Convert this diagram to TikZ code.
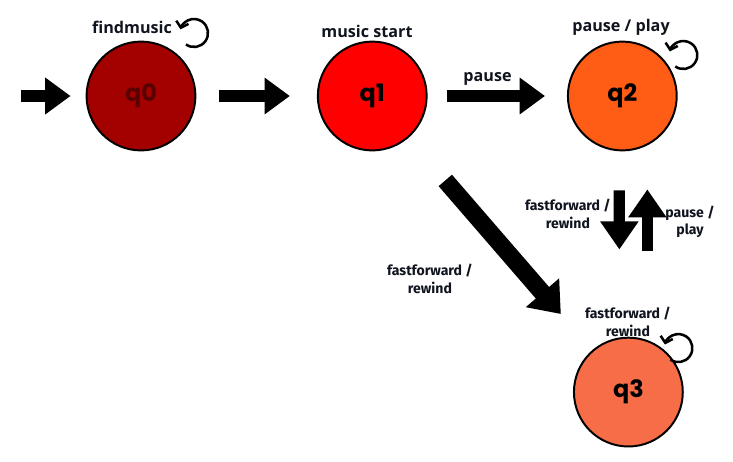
\documentclass[tikz,border=0pt]{standalone}
\usepackage{fontspec}
\setmainfont{Open Sans}
\newfontfamily\qfont{Poppins}
\newfontfamily\smallfont{Fira Sans}
\usetikzlibrary{automata,arrows.meta,positioning}

\definecolor{qzero}{HTML}{A30000}
\definecolor{qzerotext}{HTML}{5A0000}
\definecolor{qone}{HTML}{FF0000}
\definecolor{qtwo}{HTML}{FF5C16}
\definecolor{qthree}{HTML}{F76D47}
\definecolor{ink}{HTML}{10141F}

\begin{document}
\begin{tikzpicture}[x=0.025cm, y=-0.025cm, node distance=5.78cm, auto,
    every state/.style={draw=black, line width=1.4pt, minimum size=2.72cm, inner sep=0pt,
                        font=\qfont\bfseries\fontsize{17}{17}\selectfont},
    block/.style={line width=8pt, -{Triangle[length=18pt, width=25pt]}},
    vblock/.style={line width=8pt, -{Triangle[length=20pt, width=26pt]}},
    dblock/.style={line width=12.5pt, -{Triangle[length=20pt, width=30pt]}},
    loopy/.style={line width=1.8pt, -{Straight Barb[length=4pt, width=9pt]}},
    lbl/.style={font=\bfseries\fontsize{11.5}{13}\selectfont, text=ink},
    smalllbl/.style={font=\smallfont\bfseries\fontsize{10}{12.5}\selectfont, text=ink, align=center}]

    \useasboundingbox (0,0) rectangle (733,462);

    \node[state, fill=qzero, text=qzerotext] (q0)                                            at (141,96) {q0};
    \node[state, fill=qone]                  (q1) [right of=q0]                                         {q1};
    \node[state, fill=qtwo]                  (q2) [right of=q1, node distance=6.25cm]                   {q2};
    \node[state, fill=qthree]                (q3) [below of=q2, node distance=7.4cm, xshift=4.3pt]      {q3};

    \coordinate (in) at (21,96);

    % transitions
    \path[block]  (in)  edge [shorten >=10.7pt]                    (q0)
                  (q0)  edge [shorten <=16.4pt, shorten >=19.2pt]  (q1)
                  (q1)  edge [shorten <=13.5pt, shorten >=15.6pt]  node[lbl, above=0pt, pos=0.43] {pause} (q2);
    \path[dblock] (q1)  edge [shorten <=40pt, shorten >=34pt]      (q3);
    \path[vblock] ([xshift=-2.1pt]q2.south) edge [shorten <=27.7pt, shorten >=62pt] ([xshift=-6.4pt]q3.north)
                  ([xshift=13.5pt]q3.north) edge [shorten <=61pt, shorten >=27pt]   ([xshift=17.8pt]q2.south);

    % self loops
    \draw[loopy] (q0.center) ++(53,-63) ++(125:14) arc[start angle=125, end angle=-165, radius=14];
    \draw[loopy] (q2.center) ++(61,-41) ++(125:14) arc[start angle=125, end angle=-165, radius=14];
    \draw[loopy] (q3.center) ++(50,-44) ++(125:14) arc[start angle=125, end angle=-165, radius=14];

    % labels
    \node[lbl]      (find)   at (132,27)  {findmusic};
    \node[lbl]      (mstart) at (367,31)  {music start};
    \node[lbl]      (pplay)  at (621,27)  {pause / play};
    \node[smalllbl] (ffdown) at (568,214) {fastforward /\\rewind};
    \node[smalllbl] (ppup)   at (690,222) {pause /\\play};
    \node[smalllbl] (ffdiag) at (430,279) {fastforward /\\rewind};
    \node[smalllbl] (ffloop) at (628,322) {fastforward /\\rewind};

\end{tikzpicture}
\end{document}
